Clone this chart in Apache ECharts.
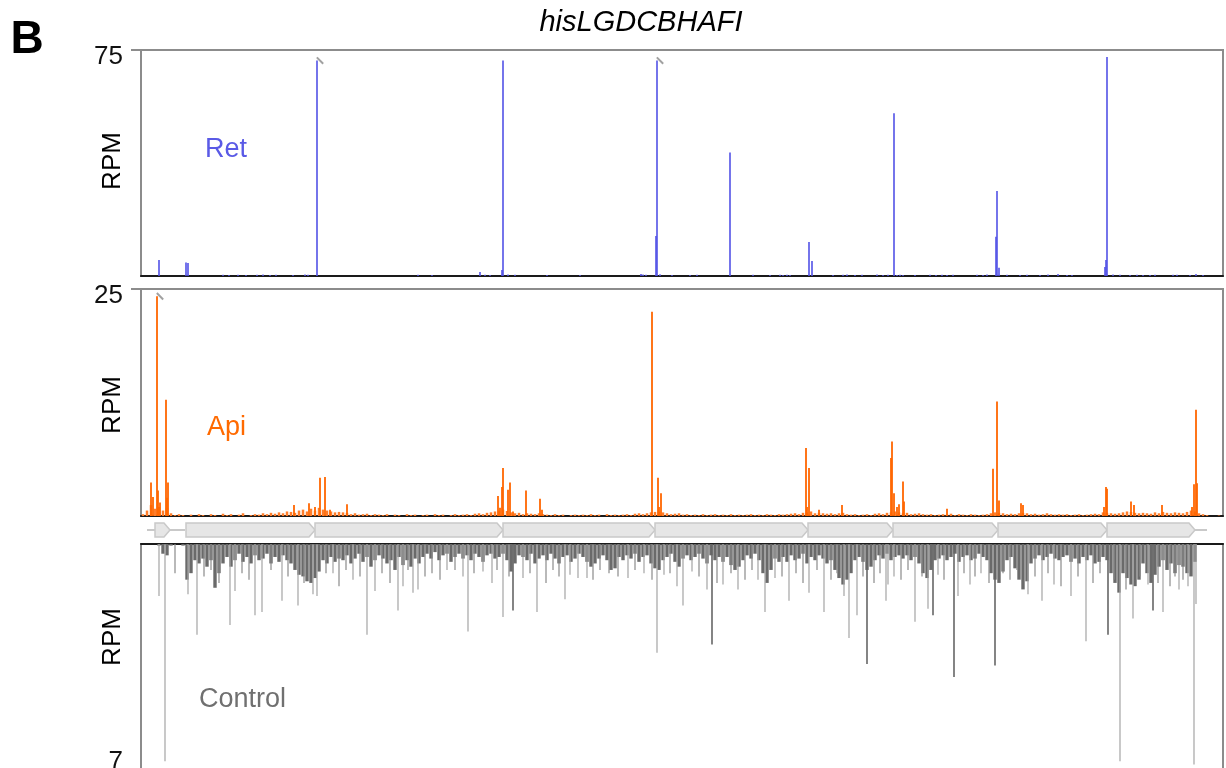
<!DOCTYPE html>
<html>
<head>
<meta charset="utf-8">
<script src="https://cdn.jsdelivr.net/npm/echarts@6/dist/echarts.min.js"></script>
<style>
  html, body { margin: 0; padding: 0; background: #fff; }
  #main { width: 1226px; height: 768px; }
</style>
</head>
<body>
<div id="main"></div>
<script>
// position along the locus, in track units (0 .. 1082)
const X_MAX = 1082;
const BIN = 4; // width of one binned value for the noise tracks

// genes of the his operon
const geneNames = ['hisL', 'hisG', 'hisD', 'hisC', 'hisB', 'hisH', 'hisA', 'hisF', 'hisI'];
const geneStart = [14, 45, 174, 362, 514, 667, 752, 857, 966];
const geneEnd   = [29, 174, 362, 514, 667, 752, 857, 966, 1054];
const backbone  = [[6, 44], [1054, 1066]];

// Ret (RPM), [position, value]
const retPeaks = [[18,5.3],[45,4.5],[47,4.3],[176,71.5],[339,1.3],[361,2],[362,71.5],[500,0.7],
  [515,13.3],[516,71.5],[589,41],[668,11.3],[671,5],[753,54],[855,13],[856,28.2],[858,2.7],
  [964,3],[965,5.3],[966,72.7]];
const retNoise = [[82,0.4],[88,0.3],[97,0.4],[105,0.3],[116,0.4],[122,0.5],[129,0.3],[135,0.4],
  [152,0.3],[164,0.5],[167,0.4],[277,0.4],[291,0.3],[344,0.4],[349,0.3],[367,0.5],[374,0.4],
  [406,0.3],[439,0.3],[502,0.5],[505,0.4],[519,0.6],[531,0.3],[549,0.3],[556,0.4],[612,0.4],
  [629,0.3],[639,0.4],[642,0.3],[646,0.4],[649,0.3],[692,0.3],[702,0.4],[706,0.5],[714,0.3],
  [721,0.4],[736,0.5],[742,0.3],[747,0.4],[756,0.3],[759,0.4],[762,0.3],[774,0.3],[789,0.4],
  [795,0.3],[801,0.4],[806,0.3],[812,0.4],[836,0.4],[842,0.3],[846,0.5],[866,0.4],[879,0.3],
  [886,0.4],[899,0.3],[907,0.5],[917,0.7],[926,0.3],[931,0.3],[972,0.5],[979,0.4],[989,0.3],
  [996,0.4],[1002,0.3],[1009,0.3],[1014,0.4],[1032,0.4],[1036,0.4],[1049,0.3],[1055,0.7],[1062,0.3]];
const retClipped = [[176,71.5],[516,71.5]];

// Api (RPM)
const apiPeaks = [[10,3.7],[12,2.1],[16,24.2],[17,2.8],[19,1.5],[25,12.8],[26,2.0],[27,3.7],
  [153,1.2],[168,1.4],[174,1.0],[179,4.2],[184,4.3],[189,0.7],[206,1.3],
  [357,2.2],[359,0.9],[361,3.2],[362,5.3],[367,2.9],[369,3.7],[372,0.5],[385,2.8],[399,1.9],[401,0.7],
  [511,22.5],[517,4.2],[518,1.0],[520,2.5],
  [665,7.5],[666,1.0],[668,5.3],[678,0.7],[701,1.2],
  [750,6.4],[751,8.2],[753,2.5],[756,1.0],[758,1.3],[762,3.8],[763,1.6],[806,0.8],
  [852,5.2],[856,12.6],[858,1.7],[880,1.4],[882,1.2],
  [963,1.0],[965,3.2],[966,3.0],[990,1.6],[993,1.2],[1021,1.2],
  [1051,1.0],[1053,3.5],[1055,11.7],[1056,3.6]];
const apiClipped = [[16,24.2]];
const apiNoise = [
  0.2,0.6,1.2,0.8,1.0,0.6,0.9,0.3,0.1,0.2,
  0.1,0,0.15,0,0.2,0.1,0,0.2,0.1,0,
  0.25,0.1,0.2,0,0.15,0.3,0,0.1,0.2,0.15,
  0.3,0.2,0.35,0.25,0.4,0.3,0.5,0.45,0.35,0.6,
  0.7,0.5,0.8,0.6,0.9,0.7,0.6,0.5,0.4,0.45,
  0.4,0.35,0.2,0.3,0.15,0.2,0.25,0.1,0.2,0.15,
  0.1,0.2,0,0.15,0.1,0,0.2,0.1,0.15,0,
  0.1,0.15,0,0.2,0.1,0.15,0,0.1,0.2,0.1,
  0.15,0.2,0.1,0.25,0.3,0.2,0.35,0.4,0.5,0.6,
  0.7,0.55,0.4,0.3,0.35,0.2,0.3,0.25,0.2,0.3,
  0.2,0.15,0.1,0.2,0.1,0.15,0,0.1,0.15,0.1,
  0.15,0.1,0.2,0.1,0.15,0,0.2,0.1,0.15,0.1,
  0.15,0.2,0.1,0.25,0.3,0.2,0.3,0.4,0.45,0.5,
  0.4,0.3,0.2,0.25,0.3,0.15,0.2,0.1,0.15,0.1,
  0.2,0.1,0.15,0.2,0.1,0.15,0.1,0.2,0.1,0.15,
  0.1,0.15,0.2,0.1,0.15,0.1,0.2,0.15,0.1,0.2,
  0.15,0.2,0.25,0.3,0.2,0.35,0.4,0.5,0.3,0.35,
  0.3,0.25,0.3,0.2,0.3,0.35,0.2,0.15,0.2,0.1,
  0.15,0.2,0.1,0.25,0.3,0.2,0.35,0.4,0.5,0.4,
  0.3,0.35,0.2,0.25,0.3,0.2,0.15,0.2,0.1,0.15,
  0.2,0.15,0.25,0.1,0.2,0.15,0.1,0.2,0.15,0.1,
  0.15,0.2,0.3,0.4,0.35,0.3,0.2,0.25,0.2,0.3,
  0.35,0.3,0.2,0.25,0.15,0.2,0.3,0.2,0.15,0.2,
  0.15,0.2,0.1,0.15,0.2,0.1,0.15,0.2,0.25,0.2,
  0.4,0.35,0.3,0.25,0.3,0.4,0.5,0.45,0.35,0.3,
  0.35,0.3,0.25,0.4,0.3,0.45,0.35,0.3,0.4,0.35,
  0.3,0.45,0.6,0.5,0.3,0.2,0.1,0,0,0.05];

// Control (RPM), drawn downwards
const ctrlBody = [
  0,0,0,0,0.05,0.3,0.35,0.05,0,0,
  0.05,1.1,0.9,0.5,0.6,0.45,0.7,0.5,1.35,0.9,
  0.6,0.4,0.7,0.5,0.3,0.55,0.4,0.6,0.35,0.5,
  0.45,0.3,0.6,0.4,0.55,0.35,0.5,0.6,0.8,0.95,
  1.0,1.15,1.2,1.05,0.85,0.5,0.6,0.4,0.55,0.45,
  0.5,0.35,0.6,0.45,0.3,0.55,0.4,0.7,0.5,0.35,
  0.45,0.6,0.5,0.8,0.4,0.65,0.5,0.7,0.45,0.6,
  0.4,0.3,0.45,0.25,0.5,0.35,0.3,0.55,0.4,0.3,
  0.45,0.35,0.5,0.3,0.4,0.55,0.35,0.3,0.45,0.4,
  0.3,0.5,0.85,0.6,0.35,0.4,0.5,0.3,0.6,0.45,
  0.35,0.5,0.3,0.45,0.6,0.4,0.35,0.55,0.45,0.3,
  0.4,0.55,0.7,0.6,0.45,0.35,0.5,0.8,0.75,0.4,
  0.5,0.35,0.45,0.3,0.55,0.4,0.35,0.6,0.75,0.8,
  0.5,0.4,0.3,0.55,0.7,0.45,0.35,0.5,0.4,0.3,
  0.45,0.6,0.35,0.5,0.4,0.55,0.4,0.65,0.8,0.7,
  0.5,0.35,0.45,0.3,0.5,0.9,1.2,0.8,0.45,0.55,
  0.4,0.55,0.35,0.5,0.45,0.3,0.6,0.4,0.5,0.35,
  0.45,0.6,0.5,0.8,1.05,1.25,1.1,0.9,0.5,0.4,
  0.55,0.8,0.7,0.5,0.35,0.45,0.3,0.5,0.4,0.35,
  0.45,0.35,0.5,0.4,0.6,0.9,1.05,0.8,0.5,0.45,
  0.35,0.5,0.4,0.3,0.55,0.4,0.35,0.5,0.45,0.3,
  0.4,0.5,0.9,1.1,1.2,0.85,0.5,0.4,0.75,1.1,
  1.4,1.15,0.6,0.45,0.35,0.5,0.4,0.3,0.45,0.5,
  0.4,0.35,0.55,0.45,0.6,0.4,0.5,0.35,0.6,0.55,
  0.4,0.5,0.9,1.2,1.5,0.9,1.05,1.25,1.3,1.1,
  0.6,0.9,1.2,0.95,0.7,0.5,0.8,0.6,0.9,0.65,
  0.7,0.9,1.0,0.55,0,0,0,0,0,0];
const ctrlSpikesLight = [[18,1.6],[24,6.7],[47,1.55],[56,2.8],[89,2.5],[94,1.45],[114,2.2],[121,2.1],
  [141,1.75],[157,1.9],[172,1.55],[176,1.6],[192,0.9],[212,1.1],[226,2.8],[234,1.45],[257,2.05],
  [262,1.3],[272,1.5],[277,1.4],[306,0.8],[322,1.0],[327,2.7],[342,0.85],[351,1.2],[362,2.25],
  [382,1.05],[396,2.1],[424,1.7],[429,0.95],[437,1.05],[446,1.05],[487,1.05],[503,0.9],[516,3.35],
  [523,0.95],[536,1.3],[542,1.9],[551,0.85],[566,1.4],[582,1.25],[597,1.4],[617,1.1],[624,2.1],
  [634,1.05],[648,1.75],[668,1.5],[683,2.1],[703,1.6],[708,2.9],[716,2.2],[745,1.75],[747,1.25],
  [753,1.0],[774,2.4],[787,2.0],[797,0.95],[817,1.6],[829,1.25],[840,0.9],[887,1.55],[901,1.75],
  [913,1.25],[930,1.6],[945,3.0],[979,6.7],[992,2.3],[1007,1.25],[1022,2.1],[1038,1.4],[1047,1.3],
  [1053,6.8],[1055,1.85]];
const ctrlSpikesDark = [[372,2.05],[571,3.1],[726,3.7],[792,2.2],[813,4.1],[854,3.75],[967,2.8],[1012,2.05]];
const ctrlSpikesMid = [[34,0.9],[63,1.0],[70,0.8],[78,1.2],[101,0.9],[108,1.1],[130,0.8],[147,1.0],
  [163,1.2],[185,0.9],[198,1.3],[205,0.8],[219,1.0],[241,0.9],[249,1.2],[267,0.8],[284,1.0],[291,0.9],
  [299,1.1],[314,0.8],[333,0.9],[356,0.8],[368,1.0],[389,0.9],[405,1.2],[412,0.8],[418,1.0],[452,1.1],
  [459,0.8],[468,0.9],[477,1.0],[494,0.8],[511,1.1],[529,0.9],[558,1.0],[576,1.2],[590,0.9],[604,1.1],
  [611,0.8],[641,1.0],[655,0.9],[662,1.2],[676,0.8],[690,1.1],[696,0.9],[722,1.0],[733,1.2],[739,0.9],
  [760,1.1],[767,0.8],[781,1.0],[803,1.1],[823,0.9],[834,1.0],[848,1.2],[862,0.9],[869,1.1],[876,0.8],
  [894,1.0],[907,0.9],[920,1.3],[937,1.0],[952,1.2],[959,0.9],[973,1.1],[985,1.4],[999,1.0],[1017,1.2],
  [1029,1.3],[1034,1.0],[1042,1.1]];

const FONT = 'Liberation Sans, Arial, Helvetica, sans-serif';
const FRAME = '#8c8c8c';

function binned(arr) {
  return arr.map((v, i) => [i * BIN + BIN / 2, v]);
}

// panels: Ret, Api, gene map, Control
const grids = [
  { left: 141, width: X_MAX, top: 50, height: 226, show: true, borderColor: FRAME, borderWidth: 2, outerBoundsMode: 'none' },
  { left: 141, width: X_MAX, top: 289, height: 227, show: true, borderColor: FRAME, borderWidth: 2, outerBoundsMode: 'none' },
  { left: 141, width: X_MAX, top: 520, height: 20, outerBoundsMode: 'none' },
  { left: 141, width: X_MAX, top: 544, height: 227, show: true, borderColor: FRAME, borderWidth: 2, outerBoundsMode: 'none' }
];

function xAxisFor(gridIndex, baseline) {
  return {
    type: 'value', gridIndex: gridIndex, min: 0, max: X_MAX,
    show: !!baseline,
    axisLine: { show: !!baseline, onZero: true, lineStyle: { color: '#1a1a1a', width: 2 } },
    axisTick: { show: false }, axisLabel: { show: false }, splitLine: { show: false }
  };
}

function yAxisFor(gridIndex, max, inverse) {
  return {
    type: 'value', gridIndex: gridIndex, min: 0, max: max, inverse: !!inverse,
    axisLine: { show: false },
    splitLine: { show: false },
    axisTick: { show: true, customValues: [max], length: 10, lineStyle: { color: FRAME, width: 2 } },
    axisLabel: {
      show: true, customValues: [max], margin: 18, fontSize: 26, color: '#111', fontFamily: FONT,
      verticalAlign: inverse ? 'bottom' : 'top', lineHeight: inverse ? 18 : 14
    }
  };
}

const xAxes = [
  xAxisFor(0, true),  // 0 Ret noise + baseline
  xAxisFor(0, false), // 1 Ret peaks
  xAxisFor(1, true),  // 2 Api noise + baseline
  xAxisFor(1, false), // 3 Api peaks
  xAxisFor(2, false), // 4 genes
  xAxisFor(3, true),  // 5 Control body + baseline
  xAxisFor(3, false), // 6 Control light spikes
  xAxisFor(3, false), // 7 Control dark spikes
  xAxisFor(3, false)  // 8 Control mid spikes
];
const yAxes = [
  yAxisFor(0, 75),
  yAxisFor(1, 25),
  { type: 'value', gridIndex: 2, min: 0, max: 1, show: false },
  yAxisFor(3, 7, true)
];

function barSeries(name, xi, yi, data, color, width) {
  return {
    name: name, type: 'bar', xAxisIndex: xi, yAxisIndex: yi, data: data,
    barWidth: width, itemStyle: { color: color }, silent: true, animation: false
  };
}

function clipMark(xi, yi, data) {
  return {
    type: 'scatter', xAxisIndex: xi, yAxisIndex: yi, data: data,
    symbol: 'rect', symbolSize: [9, 2], symbolRotate: -45, symbolOffset: [3, 0],
    itemStyle: { color: '#8a8a8a' }, silent: true, animation: false, z: 5
  };
}

const geneData = geneNames.map((n, i) => [geneStart[i], geneEnd[i], n]);

let myChart = echarts.init(document.getElementById('main'));
myChart.setOption({
  animation: false,
  backgroundColor: '#fff',
  grid: grids,
  xAxis: xAxes,
  yAxis: yAxes,
  series: [
    barSeries('Ret', 0, 0, retNoise, '#5b5be8', 1.5),
    barSeries('Ret', 1, 0, retPeaks, '#5252e6', 1.6),
    clipMark(1, 0, retClipped),

    barSeries('Api', 2, 1, binned(apiNoise), '#ff7d2a', 2.5),
    barSeries('Api', 3, 1, apiPeaks, '#ff6600', 1.8),
    clipMark(3, 1, apiClipped),

    {
      // gene arrows
      type: 'custom', xAxisIndex: 4, yAxisIndex: 2, data: geneData, silent: true,
      renderItem: function (params, api) {
        const a = api.coord([api.value(0), 0.5]);
        const b = api.coord([api.value(1), 0.5]);
        const h = 7, tip = 6;
        return {
          type: 'polygon',
          shape: { points: [[a[0], a[1] - h], [b[0] - tip, a[1] - h], [b[0], a[1]], [b[0] - tip, a[1] + h], [a[0], a[1] + h]] },
          style: { fill: '#e6e6e6', stroke: '#c9c9c9', lineWidth: 1.5 },
          z2: 2
        };
      }
    },
    {
      // intergenic backbone
      type: 'custom', xAxisIndex: 4, yAxisIndex: 2, data: backbone, silent: true, z: 1,
      renderItem: function (params, api) {
        const a = api.coord([api.value(0), 0.5]);
        const b = api.coord([api.value(1), 0.5]);
        return {
          type: 'line',
          shape: { x1: a[0], y1: a[1], x2: b[0], y2: b[1] },
          style: { stroke: '#c9c9c9', lineWidth: 2 }
        };
      }
    },

    barSeries('Control', 5, 3, binned(ctrlBody), '#6a6a6a', 3.4),
    barSeries('Control', 8, 3, ctrlSpikesMid, '#8a8a8a', 1.2),
    barSeries('Control', 6, 3, ctrlSpikesLight, '#a4a4a4', 1.2),
    barSeries('Control', 7, 3, ctrlSpikesDark, '#666666', 1.6)
  ],
  graphic: [
    { type: 'text', x: 27, y: 40, style: { text: 'B', font: 'bold 46px ' + FONT, fill: '#000', textAlign: 'center', textVerticalAlign: 'middle' } },
    { type: 'text', x: 641, y: 23, style: { text: 'hisLGDCBHAFI', font: 'italic 29px ' + FONT, fill: '#000', textAlign: 'center', textVerticalAlign: 'middle' } },
    { type: 'text', x: 113, y: 161, rotation: Math.PI / 2, style: { text: 'RPM', font: '26px ' + FONT, fill: '#000', textAlign: 'center', textVerticalAlign: 'middle' } },
    { type: 'text', x: 113, y: 405, rotation: Math.PI / 2, style: { text: 'RPM', font: '26px ' + FONT, fill: '#000', textAlign: 'center', textVerticalAlign: 'middle' } },
    { type: 'text', x: 113, y: 637, rotation: Math.PI / 2, style: { text: 'RPM', font: '26px ' + FONT, fill: '#000', textAlign: 'center', textVerticalAlign: 'middle' } },
    { type: 'text', x: 205, y: 150, style: { text: 'Ret', font: '27px ' + FONT, fill: '#5a5ae6', textAlign: 'left', textVerticalAlign: 'middle' } },
    { type: 'text', x: 207, y: 428, style: { text: 'Api', font: '27px ' + FONT, fill: '#ff6a00', textAlign: 'left', textVerticalAlign: 'middle' } },
    { type: 'text', x: 199, y: 700, style: { text: 'Control', font: '27px ' + FONT, fill: '#707070', textAlign: 'left', textVerticalAlign: 'middle' } }
  ]
});
</script>
</body>
</html>
